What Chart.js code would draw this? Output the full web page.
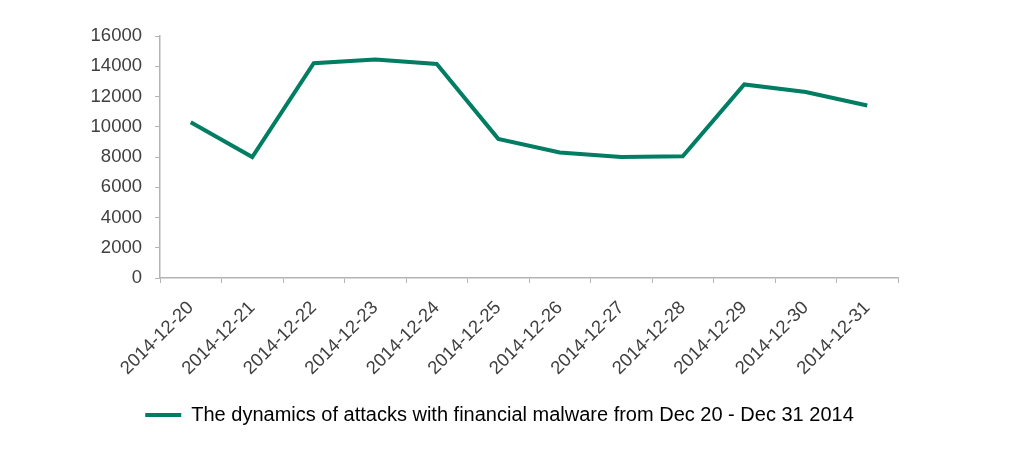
<!DOCTYPE html>
<html><head><meta charset="utf-8">
<script src="https://cdn.jsdelivr.net/npm/chart.js@4.4.1/dist/chart.umd.min.js"></script>
<style>html,body{margin:0;padding:0;background:#fff}#wrap{width:1024px;height:457px}</style>
</head><body><div id="wrap"><canvas id="c" width="1024" height="457"></canvas></div>
<script>
const categories = ['2014-12-20','2014-12-21','2014-12-22','2014-12-23','2014-12-24','2014-12-25','2014-12-26','2014-12-27','2014-12-28','2014-12-29','2014-12-30','2014-12-31'];
const attacks = [10300, 8000, 14200, 14450, 14150, 9200, 8300, 8000, 8050, 12800, 12300, 11400];
const seriesName = 'The dynamics of attacks with financial malware from Dec 20 - Dec 31 2014';
const yMin = 0, yMax = 16000, yStep = 2000;

const green = '#007d62';
const axisColor = '#b4b4b4';
const textColor = '#404040';
Chart.defaults.font.family = '"Liberation Sans", Arial, sans-serif';
Chart.defaults.font.size = 18.5;
Chart.defaults.color = textColor;

new Chart(document.getElementById('c'), {
  type: 'line',
  data: { labels: categories, datasets: [{ label: seriesName, data: attacks, borderColor: green, backgroundColor: green, borderWidth: 4, pointRadius: 0, tension: 0, borderJoinStyle: 'miter' }] },
  options: {
    responsive: false, animation: false,
    layout: { padding: { left: 0, right: 25, top: 36, bottom: 22 } },
    plugins: {
      tooltip: { enabled: false },
      legend: { position: 'bottom', labels: { boxWidth: 36, boxHeight: 4, padding: 10, color: textColor, font: { size: 20 },
        generateLabels: (chart) => [{ text: seriesName, fillStyle: green, strokeStyle: green, lineWidth: 0, datasetIndex: 0 }] } }
    },
    scales: {
      x: { offset: true,
        afterFit: (s) => { s.height = 117; },
        grid: { offset: true, drawOnChartArea: false, drawTicks: true, tickLength: 5, color: axisColor },
        border: { color: axisColor, width: 1.5 },
        ticks: { maxRotation: 45, minRotation: 45, color: textColor, padding: 14, font: { size: 18.5 } } },
      y: { min: yMin, max: yMax,
        afterFit: (s) => { s.width = 160; },
        grid: { drawOnChartArea: false, drawTicks: true, tickLength: 5, color: axisColor },
        border: { color: axisColor, width: 1.5 },
        ticks: { stepSize: yStep, color: textColor, padding: 13, font: { size: 18.5 }, callback: (v) => String(v) } },
      yPad: { position: 'right', display: true,
        afterFit: (s) => { s.width = 101; },
        grid: { display: false }, border: { display: false },
        ticks: { display: false } }
    }
  }
});
</script></body></html>
